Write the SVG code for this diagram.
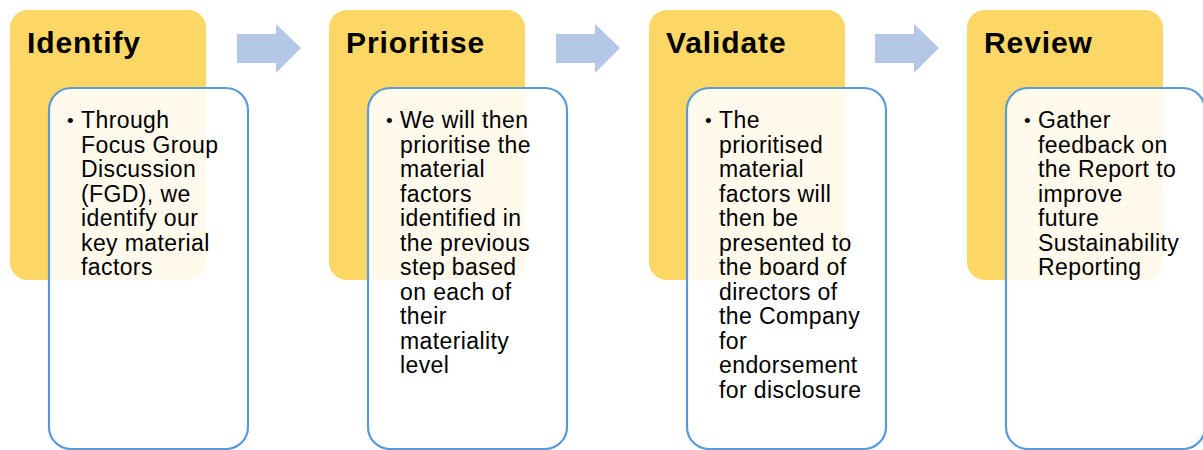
<svg xmlns="http://www.w3.org/2000/svg" width="1203" height="450" viewBox="0 0 1203 450">
  <style>
    .stage { fill: #FDD766; }
    .card { fill: #FFFFFF; fill-opacity: 0.88; stroke: #5B9BD5; stroke-width: 2.2; }
    .title { font-family: "Liberation Sans", Arial, sans-serif; font-weight: bold; font-size: 30px; letter-spacing: 0.9px; fill: #000; }
    .body { font-family: "Liberation Sans", Arial, sans-serif; font-size: 23px; letter-spacing: 0.4px; fill: #000; }
    .dot { font-family: "Liberation Sans", Arial, sans-serif; font-size: 19px; fill: #000; }
    .flow { fill: #B4C7E7; }
  </style>
  <defs>
    <path id="chevron" d="M0,10 H39 V0 L64,24 L39,49 V39 H0 Z"/>
  </defs>
  <rect width="1203" height="450" fill="#FFFFFF"/>

  <!-- flow arrows between stages -->
  <g id="connectors">
    <use href="#chevron" class="flow" x="237" y="24"/>
    <use href="#chevron" class="flow" x="556" y="24"/>
    <use href="#chevron" class="flow" x="875" y="24"/>
  </g>

  <g id="identify">
    <rect class="stage" x="10" y="10" width="196" height="270" rx="18"/>
    <text class="title" x="27" y="53">Identify</text>
    <rect class="card" x="49" y="88" width="199" height="361" rx="22"/>
    <text class="dot" x="67" y="127">•</text>
    <text class="body">
      <tspan x="81" y="128">Through</tspan>
      <tspan x="81" y="152.5">Focus Group</tspan>
      <tspan x="81" y="177">Discussion</tspan>
      <tspan x="81" y="201.5">(FGD), we</tspan>
      <tspan x="81" y="226">identify our</tspan>
      <tspan x="81" y="250.5">key material</tspan>
      <tspan x="81" y="275">factors</tspan>
    </text>
  </g>

  <g id="prioritise">
    <rect class="stage" x="329" y="10" width="196" height="270" rx="18"/>
    <text class="title" x="346" y="53">Prioritise</text>
    <rect class="card" x="368" y="88" width="199" height="361" rx="22"/>
    <text class="dot" x="386" y="127">•</text>
    <text class="body">
      <tspan x="400" y="128">We will then</tspan>
      <tspan x="400" y="152.5">prioritise the</tspan>
      <tspan x="400" y="177">material</tspan>
      <tspan x="400" y="201.5">factors</tspan>
      <tspan x="400" y="226">identified in</tspan>
      <tspan x="400" y="250.5">the previous</tspan>
      <tspan x="400" y="275">step based</tspan>
      <tspan x="400" y="299.5">on each of</tspan>
      <tspan x="400" y="324">their</tspan>
      <tspan x="400" y="348.5">materiality</tspan>
      <tspan x="400" y="373">level</tspan>
    </text>
  </g>

  <g id="validate">
    <rect class="stage" x="649" y="10" width="196" height="270" rx="18"/>
    <text class="title" x="666" y="53">Validate</text>
    <rect class="card" x="687" y="88" width="199" height="361" rx="22"/>
    <text class="dot" x="705" y="127">•</text>
    <text class="body">
      <tspan x="719" y="128">The</tspan>
      <tspan x="719" y="152.5">prioritised</tspan>
      <tspan x="719" y="177">material</tspan>
      <tspan x="719" y="201.5">factors will</tspan>
      <tspan x="719" y="226">then be</tspan>
      <tspan x="719" y="250.5">presented to</tspan>
      <tspan x="719" y="275">the board of</tspan>
      <tspan x="719" y="299.5">directors of</tspan>
      <tspan x="719" y="324">the Company</tspan>
      <tspan x="719" y="348.5">for</tspan>
      <tspan x="719" y="373">endorsement</tspan>
      <tspan x="719" y="397.5">for disclosure</tspan>
    </text>
  </g>

  <g id="review">
    <rect class="stage" x="967" y="10" width="196" height="270" rx="18"/>
    <text class="title" x="984" y="53">Review</text>
    <rect class="card" x="1006" y="88" width="199" height="361" rx="22"/>
    <text class="dot" x="1024" y="127">•</text>
    <text class="body">
      <tspan x="1038" y="128">Gather</tspan>
      <tspan x="1038" y="152.5">feedback on</tspan>
      <tspan x="1038" y="177">the Report to</tspan>
      <tspan x="1038" y="201.5">improve</tspan>
      <tspan x="1038" y="226">future</tspan>
      <tspan x="1038" y="250.5">Sustainability</tspan>
      <tspan x="1038" y="275">Reporting</tspan>
    </text>
  </g>
</svg>
